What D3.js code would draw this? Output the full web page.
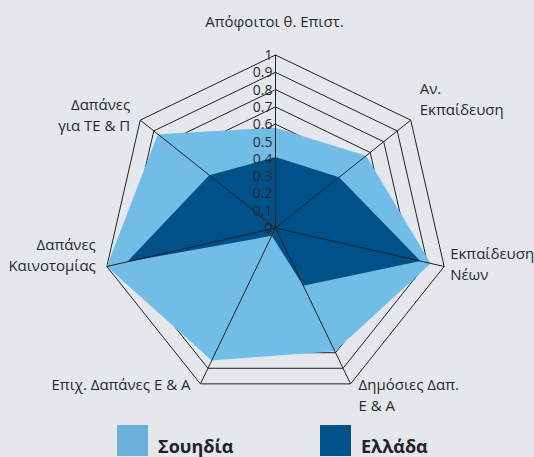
<!DOCTYPE html>
<html>
<head>
<meta charset="utf-8">
<script src="https://cdn.jsdelivr.net/npm/d3@7"></script>
<style>
  body { margin: 0; background: #e4e7ec; }
  svg { display: block; }
</style>
</head>
<body>
<div id="chart"></div>
<script>
        //Size
        var w = 534;
        var h = 457;

        // axis labels, clockwise from the top (each line of a label)
        var categories = [
            ["Απόφοιτοι θ. Επιστ."],
            ["Αν.", "Εκπαίδευση"],
            ["Εκπαίδευση", "Νέων"],
            ["Δημόσιες Δαπ.", "Ε & Α"],
            ["Επιχ. Δαπάνες Ε & Α"],
            ["Δαπάνες", "Καινοτομίας"],
            ["Δαπάνες", "για ΤΕ & Π"]
        ];

        var seriesNames = ["Σουηδία", "Ελλάδα"];
        var sweden = [0.58, 0.67, 0.92, 0.79, 0.85, 1.00, 0.87];
        var greece = [0.41, 0.47, 0.86, 0.37, 0.05, 0.88, 0.49];
        var ticks = [0, 0.1, 0.2, 0.3, 0.4, 0.5, 0.6, 0.7, 0.8, 0.9, 1];
        var tickLabels = ["0", "0.1", "0.2", "0.3", "0.4", "0.5", "0.6", "0.7", "0.8", "0.9", "1"];

        var colors = ["#72bde8", "#00508a"];
        var legendColors = ["#6aaed9", "#00508a"];

        var cx = 275.5, cy = 228;
        var n = categories.length;

        var rScale = d3.scaleLinear()
                        .domain([0, 1])
                        .range([0, 173]);

        var angle = d3.scaleLinear()
                        .domain([0, n])
                        .range([0, 2 * Math.PI]);

        var svg = d3.select("#chart")
                    .append("svg")
                    .attr("width", w)
                    .attr("height", h);

        svg.append("rect")
           .attr("width", w)
           .attr("height", h)
           .attr("fill", "#e4e7ec");

        var g = svg.append("g")
                   .attr("transform", "translate(" + cx + "," + cy + ")");

        var radial = d3.lineRadial()
                       .angle(function(d, i) { return angle(i); })
                       .radius(function(d) { return rScale(d); })
                       .curve(d3.curveLinearClosed);

        //Grid rings
        g.selectAll("path.ring")
         .data(ticks.slice(1))
         .enter()
         .append("path")
         .attr("class", "ring")
         .attr("d", function(t) { return radial(d3.range(n).map(function() { return t; })); })
         .attr("fill", "none")
         .attr("stroke", "#222")
         .attr("stroke-width", 1);

        //Series areas
        g.selectAll("path.area")
         .data([sweden, greece])
         .enter()
         .append("path")
         .attr("class", "area")
         .attr("d", radial)
         .attr("fill", function(d, i) { return colors[i]; });

        function px(i, v) { return rScale(v) * Math.sin(angle(i)); }
        function py(i, v) { return -rScale(v) * Math.cos(angle(i)); }

        //Spokes
        g.selectAll("line.spoke")
         .data(d3.range(n))
         .enter()
         .append("line")
         .attr("class", "spoke")
         .attr("x1", 0)
         .attr("y1", 0)
         .attr("x2", function(i) { return px(i, 1); })
         .attr("y2", function(i) { return py(i, 1); })
         .attr("stroke", "#222")
         .attr("stroke-width", 1);

        //Tick labels
        g.selectAll("text.tick")
         .data(ticks)
         .enter()
         .append("text")
         .attr("class", "tick")
         .attr("x", -3)
         .attr("y", function(d) { return -rScale(d); })
         .attr("dy", "0.36em")
         .attr("text-anchor", "end")
         .attr("font-family", "Open Sans, sans-serif")
         .attr("font-size", "14px")
         .attr("fill", "#2a2a2a")
         .text(function(d, i) { return tickLabels[i]; });

        //Category labels: offsets from the outer vertex
        var labelPos = [
            { dx: -1, dy: -28, anchor: "middle" },
            { dx: 9, dy: -26, anchor: "start" },
            { dx: 6, dy: -7, anchor: "start" },
            { dx: 8, dy: 6, anchor: "start" },
            { dx: -10, dy: 6, anchor: "end" },
            { dx: -11, dy: -16, anchor: "end" },
            { dx: -10, dy: -10, anchor: "end" }
        ];

        var labels = g.selectAll("text.cat")
         .data(categories)
         .enter()
         .append("text")
         .attr("class", "cat")
         .attr("text-anchor", function(d, i) { return labelPos[i].anchor; })
         .attr("font-family", "Open Sans, sans-serif")
         .attr("font-size", "15px")
         .attr("fill", "#2a2a2a");

        labels.selectAll("tspan")
         .data(function(d, i) { return d.map(function(s) { return { s: s, i: i }; }); })
         .enter()
         .append("tspan")
         .attr("x", function(d) { return px(d.i, 1) + labelPos[d.i].dx; })
         .attr("y", function(d, j) { return py(d.i, 1) + labelPos[d.i].dy + j * 21; })
         .text(function(d) { return d.s; });

        //Legend
        var legendX = [117, 320];
        var legend = svg.selectAll("g.legend")
                        .data(seriesNames)
                        .enter()
                        .append("g")
                        .attr("class", "legend")
                        .attr("transform", function(d, i) { return "translate(" + legendX[i] + ",425)"; });

        legend.append("rect")
              .attr("width", 31)
              .attr("height", 31)
              .attr("fill", function(d, i) { return legendColors[i]; });

        legend.append("text")
              .attr("x", 41)
              .attr("y", 28)
              .attr("font-family", "Open Sans, sans-serif")
              .attr("font-size", "18px")
              .attr("font-weight", "bold")
              .attr("fill", "#222")
              .text(function(d) { return d; });
</script>
</body>
</html>
